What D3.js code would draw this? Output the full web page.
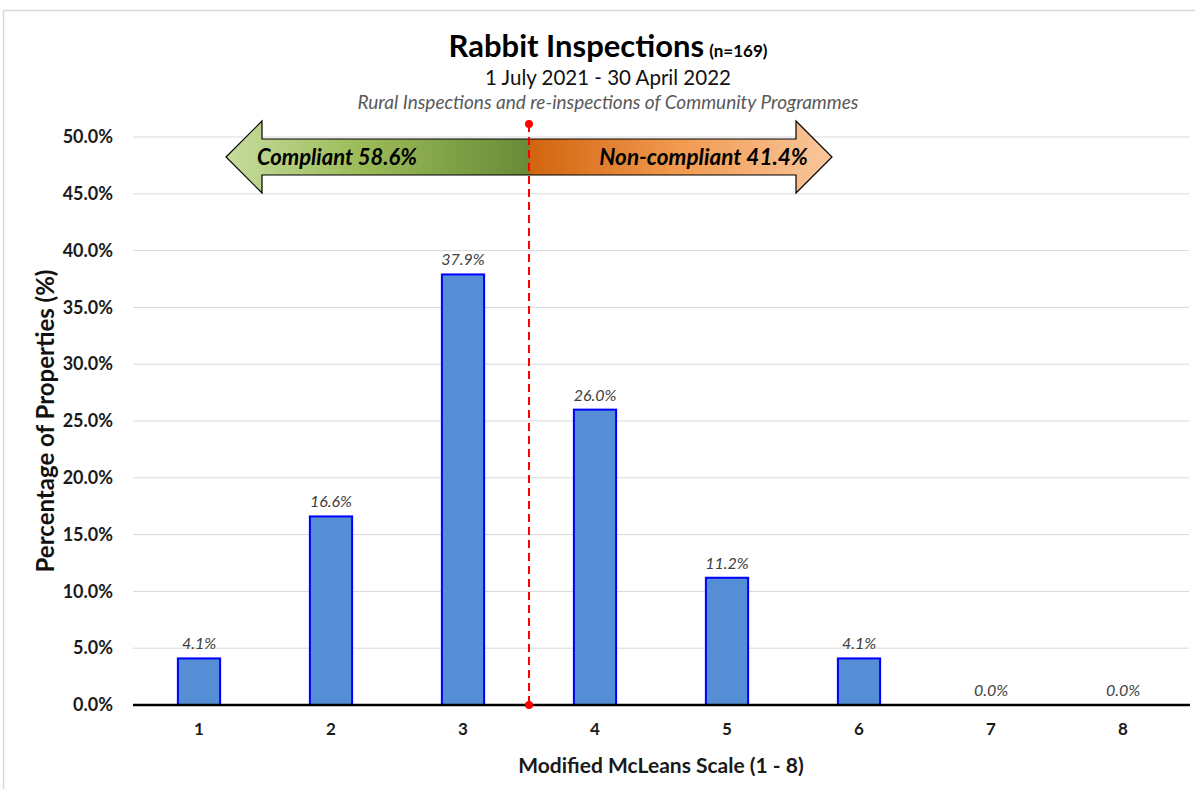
<!DOCTYPE html>
<html>
<head>
<meta charset="utf-8">
<script src="https://cdn.jsdelivr.net/npm/d3@7"></script>
<style>
  html, body { margin: 0; padding: 0; background: #fff; }
  svg { display: block; }
  text { font-family: Lato, "Open Sans", "Liberation Sans", sans-serif; }
</style>
</head>
<body>
<svg id="chart" width="1195" height="789"></svg>
<script>
// McLeans scale categories and share of inspected properties (%)
const categories = ["1", "2", "3", "4", "5", "6", "7", "8"];
const percentages = [4.1, 16.6, 37.9, 26.0, 11.2, 4.1, 0.0, 0.0];
const yTicks = [0, 5, 10, 15, 20, 25, 30, 35, 40, 45, 50];
const compliantShare = 58.6;
const nonCompliantShare = 41.4;
const thresholdAfter = "3"; // compliance boundary lies between 3 and 4

const svg = d3.select("#chart");
const W = 1195, H = 789;
const margin = { left: 133, right: 6, top: 137, bottom: 84 };

const x = d3.scaleBand()
  .domain(categories)
  .range([margin.left, W - margin.right])
  .paddingInner(0.68)
  .paddingOuter(0.34);

const y = d3.scaleLinear()
  .domain([0, 50])
  .range([H - margin.bottom, margin.top]);

// outer chart frame (top and left edges visible)
svg.append("path")
  .attr("d", `M3.5,${H} L3.5,10.5 L${W},10.5`)
  .attr("fill", "none")
  .attr("stroke", "#d9d9d9")
  .attr("stroke-width", 1.5);

// gridlines
svg.append("g")
  .selectAll("line")
  .data(yTicks.filter(d => d > 0))
  .join("line")
  .attr("x1", margin.left)
  .attr("x2", W - margin.right)
  .attr("y1", d => y(d))
  .attr("y2", d => y(d))
  .attr("stroke", "#d9d9d9")
  .attr("stroke-width", 1);

// y axis labels
const yAxis = d3.axisLeft(y)
  .tickValues(yTicks)
  .tickFormat(d => d.toFixed(1) + "%")
  .tickSize(0)
  .tickPadding(20);
const gy = svg.append("g")
  .attr("transform", `translate(${margin.left},0)`)
  .call(yAxis);
gy.select(".domain").remove();
gy.selectAll("text")
  .attr("font-size", 18)
  .attr("font-weight", "bold")
  .attr("fill", "#1a1a1a");

// bars
svg.append("g")
  .selectAll("rect")
  .data(categories.map((c, i) => ({ c, v: percentages[i] })).filter(d => d.v > 0))
  .join("rect")
  .attr("x", d => x(d.c))
  .attr("width", x.bandwidth())
  .attr("y", d => y(d.v))
  .attr("height", d => y(0) - y(d.v))
  .attr("fill", "#558ed5")
  .attr("stroke", "#0000ff")
  .attr("stroke-width", 2);

// value labels
svg.append("g")
  .selectAll("text")
  .data(categories.map((c, i) => ({ c, v: percentages[i] })))
  .join("text")
  .attr("x", d => x(d.c) + x.bandwidth() / 2)
  .attr("y", d => y(d.v) - 9)
  .attr("text-anchor", "middle")
  .attr("font-size", 16)
  .attr("font-style", "italic")
  .attr("fill", "#404040")
  .text(d => d.v.toFixed(1) + "%");

// x axis
const xAxis = d3.axisBottom(x).tickSize(0).tickPadding(18);
const gx = svg.append("g")
  .attr("transform", `translate(0,${y(0)})`)
  .call(xAxis);
gx.select(".domain").remove();
gx.selectAll("text")
  .attr("font-size", 17)
  .attr("font-weight", "bold")
  .attr("fill", "#1a1a1a");
svg.append("line")
  .attr("x1", margin.left)
  .attr("x2", W - margin.right + 1)
  .attr("y1", y(0))
  .attr("y2", y(0))
  .attr("stroke", "#000")
  .attr("stroke-width", 2.5);

// axis titles
svg.append("text")
  .attr("x", 661)
  .attr("y", 773)
  .attr("text-anchor", "middle")
  .attr("font-size", 21)
  .attr("font-weight", "bold")
  .attr("fill", "#1a1a1a")
  .text("Modified McLeans Scale (1 - 8)");

svg.append("text")
  .attr("transform", `translate(54,${421}) rotate(-90)`)
  .attr("text-anchor", "middle")
  .attr("font-size", 24)
  .attr("font-weight", "bold")
  .attr("fill", "#111")
  .text("Percentage of Properties (%)");

// titles
const title = svg.append("text")
  .attr("x", 608)
  .attr("y", 57)
  .attr("text-anchor", "middle")
  .attr("fill", "#000")
  .attr("font-weight", "bold");
title.append("tspan").attr("font-size", 31).text("Rabbit Inspections");
title.append("tspan").attr("font-size", 17).attr("dx", 5).text("(n=169)");

svg.append("text")
  .attr("x", 608)
  .attr("y", 85)
  .attr("text-anchor", "middle")
  .attr("font-size", 20.5)
  .attr("fill", "#111")
  .text("1 July 2021 - 30 April 2022");

svg.append("text")
  .attr("x", 608)
  .attr("y", 109)
  .attr("text-anchor", "middle")
  .attr("font-size", 19)
  .attr("font-style", "italic")
  .attr("fill", "#595959")
  .text("Rural Inspections and re-inspections of Community Programmes");

// compliance threshold position
const xSplit = x(thresholdAfter) + x.bandwidth() / 2 + x.step() / 2;

// double arrow with gradient halves
const defs = svg.append("defs");
const gGreen = defs.append("linearGradient").attr("id", "gGreen")
  .attr("gradientUnits", "userSpaceOnUse")
  .attr("x1", 226).attr("x2", xSplit).attr("y1", 0).attr("y2", 0);
gGreen.append("stop").attr("offset", "0%").attr("stop-color", "#c6dc9c");
gGreen.append("stop").attr("offset", "45%").attr("stop-color", "#9bbb59");
gGreen.append("stop").attr("offset", "100%").attr("stop-color", "#6a8a38");

const gOrange = defs.append("linearGradient").attr("id", "gOrange")
  .attr("gradientUnits", "userSpaceOnUse")
  .attr("x1", xSplit).attr("x2", 832).attr("y1", 0).attr("y2", 0);
gOrange.append("stop").attr("offset", "0%").attr("stop-color", "#d2640e");
gOrange.append("stop").attr("offset", "50%").attr("stop-color", "#f19a50");
gOrange.append("stop").attr("offset", "100%").attr("stop-color", "#f9c79c");

const aTipL = 226, aHeadL = 262, aHeadR = 796, aTipR = 832;
const aMid = 157, bodyT = 139, bodyB = 175, headT = 121, headB = 193;

svg.append("path")
  .attr("d", `M${aTipL},${aMid} L${aHeadL},${headT} L${aHeadL},${bodyT} L${xSplit},${bodyT} L${xSplit},${bodyB} L${aHeadL},${bodyB} L${aHeadL},${headB} Z`)
  .attr("fill", "url(#gGreen)");
svg.append("path")
  .attr("d", `M${aTipR},${aMid} L${aHeadR},${headT} L${aHeadR},${bodyT} L${xSplit},${bodyT} L${xSplit},${bodyB} L${aHeadR},${bodyB} L${aHeadR},${headB} Z`)
  .attr("fill", "url(#gOrange)");
svg.append("path")
  .attr("d", `M${aTipL},${aMid} L${aHeadL},${headT} L${aHeadL},${bodyT} L${aHeadR},${bodyT} L${aHeadR},${headT} L${aTipR},${aMid} L${aHeadR},${headB} L${aHeadR},${bodyB} L${aHeadL},${bodyB} L${aHeadL},${headB} Z`)
  .attr("fill", "none")
  .attr("stroke", "#000")
  .attr("stroke-width", 1.2)
  .attr("stroke-linejoin", "miter");

svg.append("text")
  .attr("x", 257)
  .attr("y", 165)
  .attr("font-size", 22)
  .attr("font-weight", "bold")
  .attr("font-style", "italic")
  .attr("fill", "#000")
  .text(`Compliant  ${compliantShare.toFixed(1)}%`);

svg.append("text")
  .attr("x", 808)
  .attr("y", 165)
  .attr("text-anchor", "end")
  .attr("font-size", 22.5)
  .attr("font-weight", "bold")
  .attr("font-style", "italic")
  .attr("fill", "#000")
  .text(`Non-compliant  ${nonCompliantShare.toFixed(1)}%`);

// dashed threshold line with end dots
svg.append("line")
  .attr("x1", xSplit).attr("x2", xSplit)
  .attr("y1", 124).attr("y2", y(0))
  .attr("stroke", "#ff0000")
  .attr("stroke-width", 2)
  .attr("stroke-dasharray", "8,5");
svg.selectAll("circle.end")
  .data([124, y(0)])
  .join("circle")
  .attr("class", "end")
  .attr("cx", xSplit)
  .attr("cy", d => d)
  .attr("r", 4)
  .attr("fill", "#ff0000");
</script>
</body>
</html>
